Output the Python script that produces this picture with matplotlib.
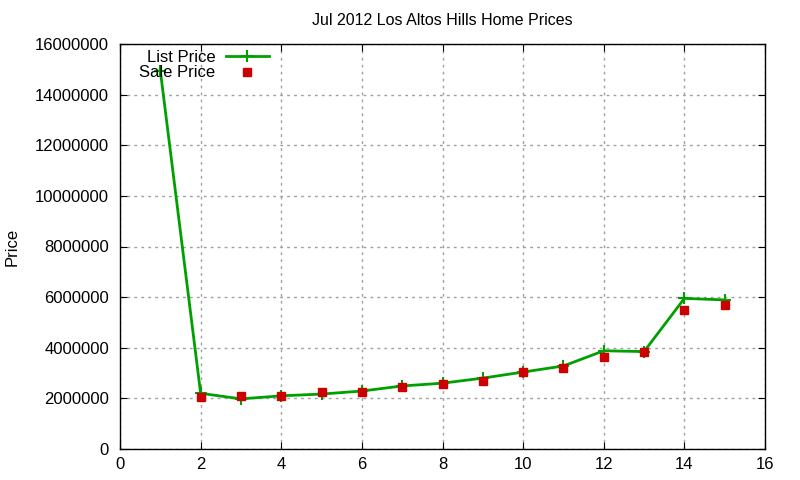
import matplotlib
matplotlib.use("Agg")
import matplotlib.pyplot as plt

x = list(range(1, 16))
list_price = [14950000, 2200000, 1980000, 2100000, 2170000, 2290000, 2490000, 2600000,
              2800000, 3040000, 3280000, 3880000, 3850000, 5950000, 5890000]
sale_x = list(range(2, 16))
sale_price = [2050000, 2100000, 2100000, 2250000, 2270000, 2450000, 2570000,
              2680000, 3040000, 3200000, 3650000, 3850000, 5500000, 5700000]

plt.rcParams['font.family'] = ['Liberation Sans', 'DejaVu Sans']
fig = plt.figure(figsize=(8, 4.8), dpi=100)
ax = fig.add_axes([120/800, 31/480, 645/800, 405/480])

ax.plot(x, list_price, color='#00a000', lw=2, marker='+', ms=8, mew=1.5, label='List Price')
ax.plot(sale_x, sale_price, ls='none', marker='s', color='#cc0000', ms=6, label='Sale Price')

ax.set_xlim(0, 16)
ax.set_ylim(0, 16000000)
ax.set_xticks(range(0, 17, 2))
ax.set_yticks(range(0, 16000001, 2000000))
ax.set_yticklabels([str(v) for v in range(0, 16000001, 2000000)])
ax.grid(True, ls=(0, (2, 3)), color='#a0a0a0', lw=1)
ax.tick_params(direction='in', top=True, right=True, labelsize=12, length=5)
ax.tick_params(axis='y', pad=8)
ax.tick_params(axis='x', pad=6)
for s in ax.spines.values():
    s.set_linewidth(1)
ax.set_title('Jul 2012 Los Altos Hills Home Prices', fontsize=11.5, pad=14)
ax.set_ylabel('Price', fontsize=12)
ax.yaxis.set_label_coords(-0.155, 0.5)

leg = ax.legend(loc='upper left', bbox_to_anchor=(0.012, 1.015), frameon=False, markerfirst=False,
                fontsize=12, handlelength=2.6, borderpad=0.2, labelspacing=0.05, handletextpad=0.6)
for t in leg.get_texts():
    t.set_ha('right')
    t.set_position((0, 0))

fig.savefig('out.png', dpi=100)
